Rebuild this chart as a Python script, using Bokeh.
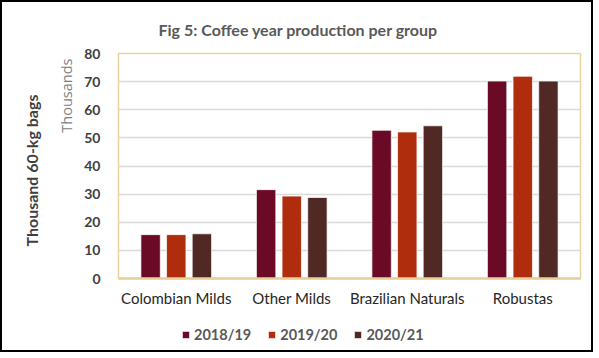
from bokeh.plotting import figure
from bokeh.layouts import column
from bokeh.models import (ColumnDataSource, FactorRange, Range1d, Legend,
                          LegendItem, FixedTicker, Title)
from bokeh.transform import dodge
from bokeh.embed import file_html
from bokeh.resources import INLINE

# ---- data ----
groups = ["Colombian Milds", "Other Milds", "Brazilian Naturals", "Robustas"]
years = ["2018/19", "2019/20", "2020/21"]
v_2018_19 = [15.6, 31.6, 52.7, 70.2]
v_2019_20 = [15.6, 29.3, 52.1, 71.9]
v_2020_21 = [15.9, 28.8, 54.3, 70.2]
y_ticks = [0, 10, 20, 30, 40, 50, 60, 70, 80]
title_text = "Fig 5: Coffee year production per group"
y_title = "Thousand 60-kg bags"
y_units = "Thousands"

colors = ["#6B0A26", "#AF2D0C", "#502924"]
tan = "#E8D3A0"
edge = "2px solid #000000"

src = ColumnDataSource(dict(groups=groups, a=v_2018_19, b=v_2019_20, c=v_2020_21))
cols = ["a", "b", "c"]
offsets = [-0.222, 0.0, 0.222]

# ---------------- main chart ----------------
p = figure(width=593, height=312, x_range=FactorRange(*groups), y_range=Range1d(0, 80),
           output_backend="svg", toolbar_location=None,
           min_border_left=116, min_border_right=15, min_border_top=50, min_border_bottom=36,
           styles={"border-top": edge, "border-left": edge, "border-right": edge})
p.background_fill_color = "white"
p.border_fill_color = "white"
p.outline_line_color = tan
p.outline_line_width = 1.5

for col, off, c in zip(cols, offsets, colors):
    p.vbar(x=dodge("groups", off, range=p.x_range), top=col, width=0.168, source=src,
           fill_color=c, line_color="white", line_alpha=0.7, line_width=1)

# title
p.title.text = title_text
p.title.align = "left"
p.title.offset = 40
p.title.vertical_align = "bottom"
p.title.standoff = 30
p.title.text_font = "Lato"
p.title.text_font_style = "bold"
p.title.text_font_size = "16px"
p.title.text_color = "#595959"

# axes
p.yaxis.ticker = FixedTicker(ticks=y_ticks)
p.yaxis.axis_line_color = None
p.yaxis.major_tick_line_color = None
p.yaxis.major_tick_out = 0
p.yaxis.major_tick_in = 0
p.yaxis.minor_tick_line_color = None
p.yaxis.major_label_standoff = 18
p.yaxis.major_label_text_font = "Lato"
p.yaxis.major_label_text_font_style = "bold"
p.yaxis.major_label_text_font_size = "14px"
p.yaxis.major_label_text_color = "#404040"

p.xaxis.axis_line_color = "#E6CF98"
p.xaxis.axis_line_width = 2.5
p.xaxis.major_tick_line_color = None
p.xaxis.major_tick_out = 0
p.xaxis.major_tick_in = 0
p.xaxis.minor_tick_line_color = None
p.xaxis.major_label_standoff = 10
p.xaxis.major_label_text_font = "Lato"
p.xaxis.major_label_text_font_size = "15px"
p.xaxis.major_label_text_color = "#262626"

p.xgrid.grid_line_color = None
p.ygrid.grid_line_color = "#D9D9D9"
p.ygrid.grid_line_width = 1.5

# side titles (left of the tick labels)
p.add_layout(Title(text=y_units, align="right", offset=5, standoff=11,
                   vertical_align="bottom",
                   text_font="Open Sans", text_font_style="normal",
                   text_font_size="14.5px", text_color="#7F7F7F"), "left")
p.add_layout(Title(text=y_title, align="left", offset=32, standoff=17,
                   vertical_align="bottom",
                   text_font="Lato", text_font_style="bold",
                   text_font_size="16px", text_color="#404040"), "left")

# ---------------- legend strip ----------------
q = figure(width=593, height=40, x_range=p.x_range, y_range=Range1d(1000, 1001),
           output_backend="svg", toolbar_location=None, min_border=0,
           x_axis_location=None, y_axis_location=None,
           styles={"border-bottom": edge, "border-left": edge, "border-right": edge})
q.outline_line_color = None
q.xgrid.grid_line_color = None
q.ygrid.grid_line_color = None
keys = []
for col, off, c in zip(cols, offsets, colors):
    keys.append(q.vbar(x=dodge("groups", off, range=p.x_range), top=col, width=0.168,
                       source=src, fill_color=c, line_color="white", line_alpha=0.7,
                       line_width=1))

legend = Legend(items=[LegendItem(label=y, renderers=[r]) for y, r in zip(years, keys)],
                orientation="horizontal", location=(63, 9), padding=0, margin=0,
                glyph_width=9, glyph_height=9, label_standoff=4, spacing=16,
                label_height=9, border_line_color=None, background_fill_alpha=0,
                label_text_font="Lato", label_text_font_style="bold",
                label_text_font_size="14.5px", label_text_color="#595959")
q.add_layout(legend, "center")

layout = column(p, q, spacing=0)
open("out.html", "w").write(file_html(layout, INLINE))
